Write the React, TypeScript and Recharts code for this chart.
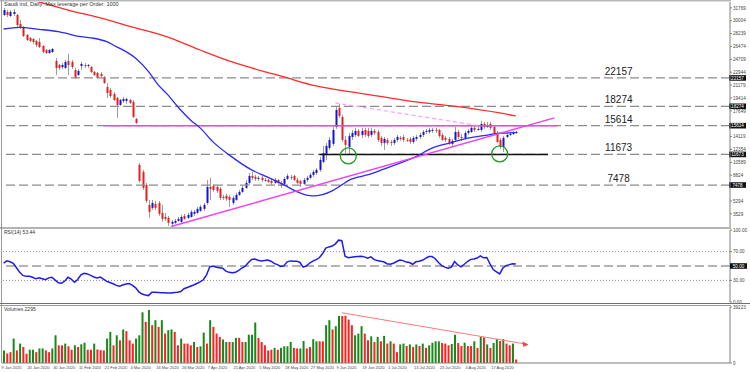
import React from "react";
import { ComposedChart, Bar, Line, XAxis, YAxis, ReferenceLine, ReferenceDot, Cell } from "recharts";

// date labels under the volume panel, one every 8 sessions
const dateLabels = [
  "9 Jan 2020", "20 Jan 2020", "30 Jan 2020", "11 Feb 2020", "21 Feb 2020",
  "4 Mar 2020", "16 Mar 2020", "26 Mar 2020", "7 Apr 2020", "21 Apr 2020",
  "5 May 2020", "18 May 2020", "27 May 2020", "9 Jun 2020", "19 Jun 2020",
  "1 Jul 2020", "13 Jul 2020", "23 Jul 2020", "4 Aug 2020", "17 Aug 2020",
];

// daily OHLC
const opens = [
  30790, 31200, 30650, 30930, 30790, 29560, 29140, 28050, 27640, 27500,
  27230, 27090, 26540, 25990, 25580, 25720, 24490, 23940, 23660, 23530,
  24490, 24350, 23250, 22570, 23800, 23940, 23800, 23660, 22980, 22840,
  22710, 22290, 20920, 20510, 19970, 19420, 18460, 19010, 19010, 19140,
  18870, 16540, 10240, 9280, 7500, 4760, 4350, 4900, 5030, 3660,
  3110, 2980, 2160, 2290, 2570, 2430, 3250, 2980, 3110, 3530,
  3660, 3940, 4210, 5030, 7220, 7360, 7220, 6950, 5850, 5990,
  5850, 5030, 5440, 6130, 6540, 7090, 7770, 8730, 8590, 8320,
  8460, 8180, 8180, 8050, 7770, 8180, 7770, 7640, 8320, 8590,
  8730, 8180, 8050, 7640, 8180, 8460, 8870, 9140, 9550, 10650,
  11610, 12570, 13120, 15440, 18050, 16810, 13660, 12700, 14070, 14350,
  14900, 14350, 15030, 14900, 14350, 14900, 14760, 13940, 13250, 13660,
  13390, 13250, 13660, 13940, 14070, 13660, 13800, 13390, 13800, 14070,
  14350, 14760, 14760, 14900, 15030, 15030, 14350, 13940, 13800, 13120,
  13660, 14760, 14070, 13940, 14620, 14760, 15310, 15030, 15030, 15860,
  15440, 15860, 15440, 14620, 13660, 12700, 14070, 14350, 14490, 14620,
];
const highs = [
  31750, 31470, 31470, 31610, 30930, 30100, 29280, 28190, 27770, 27640,
  27360, 27640, 26680, 26130, 26130, 26270, 24900, 24080, 24210, 24620,
  25450, 24620, 23530, 23390, 24350, 24210, 24080, 23800, 23120, 22980,
  22980, 22430, 21470, 20790, 20240, 19550, 19280, 19550, 19420, 19280,
  19140, 16680, 10510, 9550, 7770, 5440, 5440, 5310, 5310, 4760,
  3660, 3250, 2700, 2840, 3110, 3390, 3530, 3660, 4070, 4070,
  4480, 4760, 5030, 8180, 8460, 7640, 7500, 7220, 6130, 6270,
  6130, 5990, 6400, 6810, 7360, 8180, 9140, 9280, 8870, 8730,
  8730, 8460, 8320, 8320, 8460, 8320, 8050, 8590, 9010, 8870,
  8870, 8460, 8180, 8460, 8730, 9140, 9550, 9830, 11330, 12840,
  13250, 14070, 15440, 18320, 18600, 17090, 14210, 14620, 15030, 15310,
  15170, 15310, 15310, 15310, 15310, 15170, 15030, 14210, 14070, 13940,
  13660, 13940, 14350, 14210, 14350, 13940, 14070, 14210, 14350, 14620,
  15030, 15170, 15310, 15310, 15310, 15170, 14620, 14210, 14070, 13800,
  15440, 15030, 14490, 14900, 15170, 15720, 15580, 15440, 16270, 16130,
  16130, 16130, 15720, 14900, 13940, 14210, 14620, 14760, 14900, 14900,
];
const lows = [
  30650, 30510, 30510, 30650, 29140, 28870, 27770, 27230, 27090, 26820,
  26400, 26270, 25580, 25450, 25450, 25580, 22570, 23250, 23390, 23390,
  22570, 23390, 22020, 22430, 23250, 23530, 23530, 22840, 22430, 22020,
  22160, 21340, 19420, 19420, 19010, 16680, 18320, 18730, 18600, 18600,
  16680, 15860, 7770, 6810, 5030, 2980, 4070, 4070, 3250, 2430,
  2570, 1880, 1880, 2160, 2430, 2290, 2700, 2840, 2980, 3250,
  3530, 3800, 3940, 4760, 5440, 6540, 6400, 5440, 5440, 5310,
  4480, 4760, 5310, 5990, 6400, 6950, 7500, 8180, 8050, 8050,
  7910, 7910, 7770, 7500, 7640, 7360, 7090, 7360, 8180, 8180,
  8050, 7640, 7220, 7500, 7910, 8320, 8590, 8870, 9280, 10510,
  10920, 12290, 12840, 15170, 16680, 13390, 11880, 11610, 13660, 14070,
  14070, 13940, 14070, 13940, 14070, 14350, 13390, 12840, 12290, 12980,
  12840, 12980, 13390, 13530, 13390, 13390, 13120, 13120, 13530, 13800,
  14070, 14490, 14490, 14620, 14620, 13940, 13530, 13390, 12980, 12840,
  13390, 13800, 13530, 13660, 14350, 14620, 14760, 14900, 14760, 15170,
  15310, 15030, 14350, 13250, 12430, 12020, 13940, 14210, 14350, 14490,
];
const closes = [
  31470, 30790, 31200, 31200, 29420, 29010, 27910, 27360, 27230, 27090,
  26680, 26400, 25720, 25580, 25990, 26130, 23530, 23530, 23940, 24350,
  23940, 23660, 22160, 23120, 24080, 23800, 23940, 22980, 22570, 22160,
  22430, 21470, 20100, 19690, 19140, 18460, 19140, 19280, 19280, 18730,
  16810, 15990, 8050, 7090, 5310, 3800, 5030, 4350, 3530, 2840,
  2840, 2290, 2430, 2570, 2840, 3110, 2840, 3390, 3800, 3800,
  4210, 4480, 4760, 7220, 6950, 6810, 6680, 5720, 5720, 5580,
  5440, 5720, 6130, 6540, 7090, 7770, 8730, 8460, 8320, 8460,
  8180, 8050, 7910, 7770, 8180, 7770, 7360, 8320, 8730, 8460,
  8180, 7770, 7640, 8180, 8460, 8870, 9280, 9550, 10920, 11880,
  12840, 13660, 15030, 17770, 16950, 13660, 12980, 14210, 14620, 14900,
  14210, 14900, 14350, 14210, 14900, 14620, 13660, 13250, 13800, 13250,
  13250, 13660, 14070, 13800, 13660, 13530, 13390, 13940, 14070, 14350,
  14760, 14900, 15030, 15030, 14900, 14210, 13660, 13660, 13250, 13530,
  14760, 14070, 13940, 14620, 14900, 15310, 15030, 15170, 15860, 15440,
  15720, 15310, 14620, 13390, 12700, 13940, 14350, 14490, 14620, 14760,
];

// moving averages, sampled along each curve (session index -> value)
const maFastIdx = [0, 5, 11, 17, 24, 28, 32, 35, 38, 41, 45, 48, 51, 54, 58, 61, 65, 70, 77, 82, 87, 91, 94, 96, 99, 102, 105, 107, 110, 114, 118, 123, 128, 133, 139, 144, 149, 154, 159];
const maFastVal = [28870, 29100, 28830, 28500, 27810, 27600, 27130, 26450, 25760, 24860, 23020, 21200, 19830, 18240, 16400, 15310, 13390, 11610, 9550, 8550, 7500, 6580, 6090, 5990, 6170, 6680, 7500, 8090, 8550, 9010, 9650, 10470, 11380, 12530, 13290, 13900, 14250, 14580, 14650];
const maSlowIdx = [9, 20, 30, 40, 51, 61, 71, 77, 87, 97, 108, 118, 128, 139, 154, 159];
const maSlowVal = [32840, 31470, 30380, 29140, 27770, 25990, 24350, 23530, 22290, 21060, 20240, 19550, 18870, 18320, 17360, 16950];

// RSI(14)
const rsiValues = [
  54.1, 57.1, 55.8, 53.7, 47.6, 41.2, 36.9, 35.6, 35.6, 34.3,
  32.2, 33.5, 32.2, 30.9, 33.5, 34.3, 30.4, 26.6, 26.2, 29.1,
  34.3, 31.7, 27.4, 31.3, 37.8, 39.9, 39.0, 36.9, 34.7, 33.5,
  34.7, 31.7, 28.7, 27.0, 25.3, 23.1, 21.8, 23.6, 24.9, 25.7,
  23.1, 19.7, 14.1, 11.1, 9.8, 8.9, 13.7, 13.7, 13.3, 12.8,
  12.8, 12.4, 12.4, 13.3, 13.7, 14.5, 18.4, 20.1, 21.8, 23.6,
  25.7, 27.9, 30.9, 37.8, 48.9, 49.8, 48.1, 47.6, 46.8, 42.9,
  41.2, 40.8, 41.2, 43.8, 47.2, 49.8, 54.9, 59.2, 59.7, 57.9,
  57.1, 57.5, 58.4, 56.7, 53.7, 51.9, 49.4, 50.2, 55.8, 57.1,
  56.7, 56.7, 54.9, 48.5, 50.2, 54.1, 56.7, 58.8, 61.4, 67.0,
  74.8, 76.5, 77.7, 80.8, 85.9, 85.1, 63.5, 61.4, 62.3, 62.7,
  63.1, 63.5, 62.7, 61.0, 62.7, 59.2, 57.5, 56.7, 55.8, 53.2,
  52.4, 53.7, 56.2, 58.4, 57.5, 55.4, 54.9, 52.4, 55.8, 56.7,
  57.9, 60.5, 63.1, 63.1, 60.1, 54.9, 50.6, 48.5, 46.8, 48.5,
  56.2, 51.5, 48.9, 52.4, 56.2, 59.2, 59.7, 61.0, 64.0, 61.4,
  61.8, 52.8, 45.1, 42.0, 39.0, 47.2, 50.6, 51.9, 53.2, 52.8,
];

// volumes and their colour (g = up, r = down)
const volumes = [
  8800, 6700, 7600, 17100, 8800, 13600, 11200, 6500, 9300, 9300,
  7600, 10200, 10200, 8800, 7600, 10200, 19400, 12400, 12400, 13600,
  11700, 9300, 12400, 11200, 13100, 14200, 9300, 9300, 13600, 9500,
  9000, 8800, 17100, 21800, 12400, 19400, 15900, 23500, 22300, 15900,
  13600, 17100, 19400, 35500, 28800, 37100, 26500, 30000, 25300, 30000,
  20600, 23000, 23500, 21800, 12400, 17100, 13600, 13600, 12400, 14700,
  11200, 11700, 21300, 13600, 30000, 25300, 20600, 18300, 16500, 14700,
  14700, 14700, 17600, 17600, 14700, 14700, 19800, 19800, 28400, 17600,
  14700, 12400, 8800, 9300, 10600, 9300, 10600, 11700, 11700, 14700,
  10600, 10200, 10200, 15400, 10200, 11200, 16700, 15200, 15200, 15200,
  26500, 30000, 23500, 25800, 32900, 32900, 33100, 30400, 26500, 19400,
  20600, 25800, 20600, 15900, 18700, 14700, 18300, 15200, 19000, 13600,
  15200, 13600, 7600, 13000, 13600, 11900, 13000, 11200, 13000, 11900,
  13600, 10600, 12400, 14200, 15200, 15200, 14000, 13600, 12400, 13300,
  19800, 14000, 11900, 14200, 11900, 11900, 15200, 10600, 18300, 17900,
  13000, 10600, 14000, 16700, 15400, 16700, 13600, 12400, 13600, 2500,
];
const volumeDir =
  "grrgrgrrgg" + "rggrrggrrg" + "rrgrggrrgr" + "r" + "rggrgrgrrr" + "gggrgrgrgr" +
  "ggrrgrrrgr" + "ggrgrrrggr" + "ggrrggggrr" + "rrrgrggggr" + "rggrrggrrg" +
  "grggrrrrgg" + "grrgrgrgrg" + "rrggrgrgrg" + "rggggrrrgg" + "rrgrrgrgrg" + "rggrgrrgr";

const levels = [22157, 18274, 15614, 11673, 7478];
// labels hidden behind the level tags are left out
const priceTicks = [3529, 5294, 8824, 10589, 12354, 14119, 17649, 19414, 21179, 22944, 24709, 26474, 28239, 30004, 31769];
const rsiTicks = [0, 30, 50, 70, 100];
const volumeMax = 39223;

const FONT = "'Liberation Sans', Arial, sans-serif";
const SLOTS = 226; // chart leaves empty space to the right of the last bar

const fastAt = new Map(maFastIdx.map((k, n) => [k, maFastVal[n]]));
const slowAt = new Map(maSlowIdx.map((k, n) => [k, maSlowVal[n]]));

const rows = Array.from({ length: SLOTS }, (_, i) => ({
  i,
  open: opens[i] ?? null,
  high: highs[i] ?? null,
  low: lows[i] ?? null,
  close: closes[i] ?? null,
  rsi: rsiValues[i] ?? null,
  vol: volumes[i] ?? null,
  up: volumeDir[i] === "g",
  maFast: fastAt.get(i) ?? null,
  maSlow: slowAt.get(i) ?? null,
}));

function Candle(props: any) {
  const { x, y, width, height, payload } = props;
  if (!payload || payload.high == null) return null;
  const top = Math.min(y, y + height);
  const h = Math.abs(height);
  const { open, close, high, low } = payload;
  const py = (v: number) => top + ((high - v) / (high - low)) * h;
  const cx = Math.round(x + width / 2) + 0.5;
  const b1 = py(Math.max(open, close));
  const b2 = py(Math.min(open, close));
  return (
    <g>
      <line x1={cx} x2={cx} y1={top} y2={top + h} stroke="#9c9c9c" strokeWidth={1} />
      <rect x={cx - 1} y={b1} width={2} height={Math.max(1, b2 - b1)} fill={close >= open ? "#1414d6" : "#e61e1e"} />
    </g>
  );
}

function LevelTag(props: any) {
  const { viewBox, text } = props;
  const y = viewBox.y;
  const right = viewBox.x + viewBox.width;
  return (
    <g>
      <text x={viewBox.x + viewBox.width * 0.847} y={y - 3} textAnchor="middle" fontSize={10} fill="#222" fontFamily={FONT}>
        {text}
      </text>
      <rect x={right - 1} y={y - 2.8} width={17} height={5.6} fill="#111" />
      <text x={right + 7.5} y={y + 1.7} textAnchor="middle" fontSize={4.6} fill="#fff" fontFamily={FONT}>
        {text}
      </text>
    </g>
  );
}

function PriceTick(props: any) {
  const { x, y, payload } = props;
  return (
    <text x={x} y={y} dy={1.7} fontSize={4.6} fill="#444" fontFamily={FONT}>
      {payload.value}
    </text>
  );
}

function RsiTick(props: any) {
  const { x, y, payload } = props;
  const label = payload.value.toFixed(2);
  if (payload.value === 50) {
    return (
      <g>
        <rect x={x - 3} y={y - 2.8} width={17} height={5.6} fill="#111" />
        <text x={x + 5.5} y={y + 1.7} textAnchor="middle" fontSize={4.6} fill="#fff" fontFamily={FONT}>{label}</text>
      </g>
    );
  }
  return (
    <text x={x} y={y} dy={1.7} fontSize={4.6} fill="#444" fontFamily={FONT}>
      {label}
    </text>
  );
}

function VolTick(props: any) {
  const { x, y, payload } = props;
  return (
    <text x={x} y={y} dy={1.7} fontSize={4.6} fill="#444" fontFamily={FONT}>
      {payload.value}
    </text>
  );
}

function DateTick(props: any) {
  const { x, y, payload } = props;
  const i = payload.value;
  const label = i % 8 === 0 ? dateLabels[i / 8] : undefined;
  if (!label) return null;
  return (
    <text x={x - 2} y={y + 5.5} fontSize={4} fill="#444" fontFamily={FONT}>
      {label}
    </text>
  );
}

function Arrow(props: any) {
  const { cx, cy } = props;
  return <polygon points={`${cx + 3},${cy + 0.5} ${cx - 3},${cy - 2.5} ${cx - 2},${cy + 3}`} fill="#ff4040" />;
}

export default function App() {
  return (
    <div style={{ position: "absolute", left: 0, top: 0, width: 750, height: 372, background: "#fff", fontFamily: FONT }}>
      {/* price panel */}
      <div style={{ position: "absolute", left: 0, top: 0 }}>
        <ComposedChart width={750} height={228} data={rows} margin={{ top: 2, right: 0, bottom: 1, left: 2 }}>
          <XAxis dataKey="i" type="category" scale="band" hide />
          <YAxis
            orientation="right"
            width={20}
            domain={[1724, 32570]}
            allowDataOverflow
            ticks={priceTicks}
            interval={0}
            tick={<PriceTick />}
            tickSize={2}
            tickMargin={1}
            axisLine={{ stroke: "#808080" }}
            tickLine={{ stroke: "#808080" }}
          />
          {levels.map((lv) => (
            <ReferenceLine
              key={lv}
              y={lv}
              stroke="#8c8c8c"
              strokeWidth={1.3}
              strokeDasharray="9 4"
              label={<LevelTag text={String(lv)} />}
            />
          ))}
          <ReferenceLine segment={[{ x: 31, y: 15614 }, { x: 172, y: 15614 }]} stroke="#f040f0" strokeWidth={1.6} />
          <ReferenceLine segment={[{ x: 98, y: 11673 }, { x: 169, y: 11673 }]} stroke="#111" strokeWidth={1.5} />
          <ReferenceLine segment={[{ x: 103, y: 18730 }, { x: 148, y: 15580 }]} stroke="#ff9cff" strokeWidth={1.2} strokeDasharray="4 3" />
          <Line dataKey="maSlow" type="monotone" stroke="#ff2a2a" strokeWidth={1.3} dot={false} connectNulls isAnimationActive={false} />
          <Line dataKey="maFast" type="monotone" stroke="#2a2aff" strokeWidth={1.3} dot={false} connectNulls isAnimationActive={false} />
          <Bar
            dataKey={(d: any) => (d.high != null ? [d.low, d.high] : null)}
            barSize={2}
            shape={<Candle />}
            isAnimationActive={false}
          />
          <ReferenceLine segment={[{ x: 52, y: 1790 }, { x: 171, y: 16680 }]} stroke="#f040f0" strokeWidth={1.4} />
          <ReferenceDot x={107} y={11470} r={8} fill="none" stroke="#1f9e1f" strokeWidth={1.3} />
          <ReferenceDot x={154} y={11745} r={8} fill="none" stroke="#1f9e1f" strokeWidth={1.3} />
        </ComposedChart>
      </div>

      {/* RSI panel */}
      <div style={{ position: "absolute", left: 0, top: 228 }}>
        <ComposedChart width={750} height={76} data={rows} margin={{ top: 2, right: 0, bottom: 2, left: 2 }}>
          <XAxis dataKey="i" type="category" scale="band" hide />
          <YAxis
            orientation="right"
            width={20}
            domain={[0, 100]}
            ticks={rsiTicks}
            interval={0}
            tick={<RsiTick />}
            tickSize={2}
            tickMargin={1}
            axisLine={{ stroke: "#808080" }}
            tickLine={{ stroke: "#808080" }}
          />
          <ReferenceLine y={70} stroke="#8c8c8c" strokeDasharray="1 2" />
          <ReferenceLine y={30} stroke="#8c8c8c" strokeDasharray="1 2" />
          <ReferenceLine y={50} stroke="#9a9a9a" strokeWidth={1.3} strokeDasharray="9 4" />
          <Line dataKey="rsi" type="linear" stroke="#1c1cf0" strokeWidth={1.5} dot={false} isAnimationActive={false} />
        </ComposedChart>
      </div>

      {/* volume panel */}
      <div style={{ position: "absolute", left: 0, top: 304 }}>
        <ComposedChart width={750} height={68} data={rows} margin={{ top: 3, right: 0, bottom: 0, left: 2 }}>
          <XAxis
            dataKey="i"
            type="category"
            scale="band"
            interval={7}
            height={9}
            tickSize={0}
            tickMargin={0}
            tick={<DateTick />}
            axisLine={{ stroke: "#808080" }}
            tickLine={false}
          />
          <YAxis
            orientation="right"
            width={20}
            domain={[0, volumeMax]}
            ticks={[0, volumeMax]}
            interval={0}
            tick={<VolTick />}
            tickSize={2}
            tickMargin={1}
            axisLine={{ stroke: "#808080" }}
            tickLine={{ stroke: "#808080" }}
          />
          <Bar dataKey="vol" barSize={2} isAnimationActive={false}>
            {rows.map((r) => (
              <Cell key={r.i} fill={r.up ? "#17891b" : "#ff2020"} />
            ))}
          </Bar>
          <ReferenceLine segment={[{ x: 105, y: 35200 }, { x: 162, y: 13300 }]} stroke="#ff7a7a" strokeWidth={1} />
          <ReferenceDot x={162} y={13300} shape={<Arrow />} />
        </ComposedChart>
      </div>

      {/* frame and panel captions */}
      <svg width={750} height={372} style={{ position: "absolute", left: 0, top: 0, pointerEvents: "none" }}>
        <line x1={0} x2={731} y1={0.75} y2={0.75} stroke="#b8b8b8" strokeWidth={1.5} />
        <line x1={1.5} x2={1.5} y1={0} y2={363} stroke="#9a9a9a" strokeWidth={1} />
        <line x1={0} x2={731} y1={228} y2={228} stroke="#6a6a6a" strokeWidth={1} />
        <line x1={0} x2={750} y1={303.5} y2={303.5} stroke="#707070" strokeWidth={1} />
        <line x1={0} x2={731} y1={305.5} y2={305.5} stroke="#9a9a9a" strokeWidth={1} />
        <text x={4} y={6} fontSize={5.5} fill="#333" fontFamily={FONT}>Saudi ind, Daily: Max leverage per Order: 1000</text>
        <text x={4} y={234} fontSize={5} fill="#333" fontFamily={FONT}>RSI(14) 53.44</text>
        <text x={4} y={311} fontSize={5} fill="#333" fontFamily={FONT}>Volumes 2295</text>
      </svg>
    </div>
  );
}
